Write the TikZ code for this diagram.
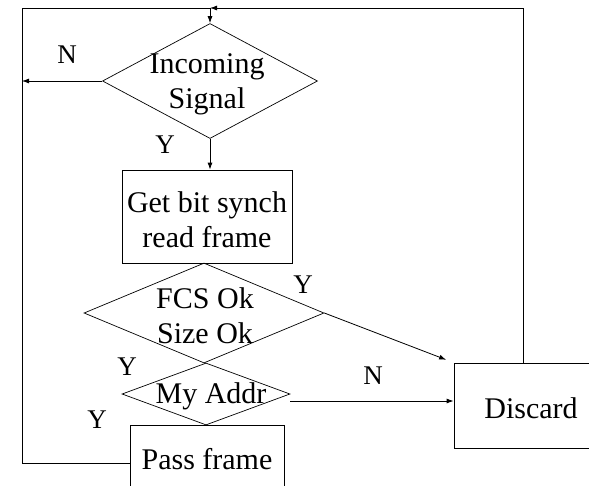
\documentclass[tikz,border=0pt]{standalone}
\usepackage{fontspec}
\setmainfont{Liberation Serif}
\usetikzlibrary{shapes.geometric,arrows.meta}
\begin{document}
\begin{tikzpicture}[x=1pt,y=-1pt,
  ln/.style={line width=0.8pt},
  arr/.style={ln,-{Latex[length=7pt,width=5pt]}},
  dia/.style={draw,diamond,inner sep=0pt,line width=0.7pt},
  box/.style={draw,rectangle,inner sep=0pt,line width=0.8pt},
  txt/.style={font=\fontsize{30}{35}\selectfont,align=center,inner sep=0pt},
  lab/.style={font=\fontsize{27}{30}\selectfont,inner sep=0pt}]
\useasboundingbox (0,0) rectangle (589,485);
\clip (0,0) rectangle (589,485);
\fill[white] (0,0) rectangle (589,485);
% shapes
\node[dia,minimum width=215pt,minimum height=115pt] (inc) at (210,81) {};
\node[txt] (inct) at (207,84) {Incoming\\Signal};
\node[box,minimum width=170pt,minimum height=93pt] (gbs) at (207,216.5) {};
\node[txt] (gbst) at (207,220) {Get bit synch\\read frame};
\node[dia,minimum width=240pt,minimum height=100pt] (fcs) at (204,313) {};
\node[txt] (fcst) at (205,316) {FCS Ok\\Size Ok};
\node[dia,minimum width=168pt,minimum height=62pt] (mya) at (206,394) {};
\node[txt] (myat) at (211,396) {My Addr};
\node[box,minimum width=154pt,minimum height=70pt] (pass) at (207,460) {};
\node[txt] (passt) at (207,459) {Pass frame};
\node[box,minimum width=145pt,minimum height=85pt] (disc) at (526.5,405.5) {};
\node[txt] (disct) at (531,408) {Discard};
% coordinates
\coordinate (tl) at (22,8);
\coordinate (tm) at (210,8);
\coordinate (tr) at (523,8);
\coordinate (bl) at (22,463);
\coordinate (na) at ([yshift=-7pt]mya.east);
% connectors
\draw[ln] (bl -| pass.west) -- (bl) -- (tl) -- (tm);
\draw[arr] (tr |- disc.north) -- (tr) -- (tm);
\draw[arr] (tm) -- (inc.north);
\draw[arr] (inc.west) -- (inc.west -| tl);
\draw[arr] (inc.south) -- (inc.south |- gbs.north);
\draw[arr,shorten >=8pt] (fcs.east) -- (disc.north west);
\draw[arr] (na) -- (na -| disc.west);
% labels
\node[lab] (n1) at (67,55) {N};
\node[lab] (y1) at (165,145) {Y};
\node[lab] (y2) at (303,285) {Y};
\node[lab] (n2) at (373,376) {N};
\node[lab] (y3) at (127,367) {Y};
\node[lab] (y4) at (97,420) {Y};
\end{tikzpicture}
\end{document}
